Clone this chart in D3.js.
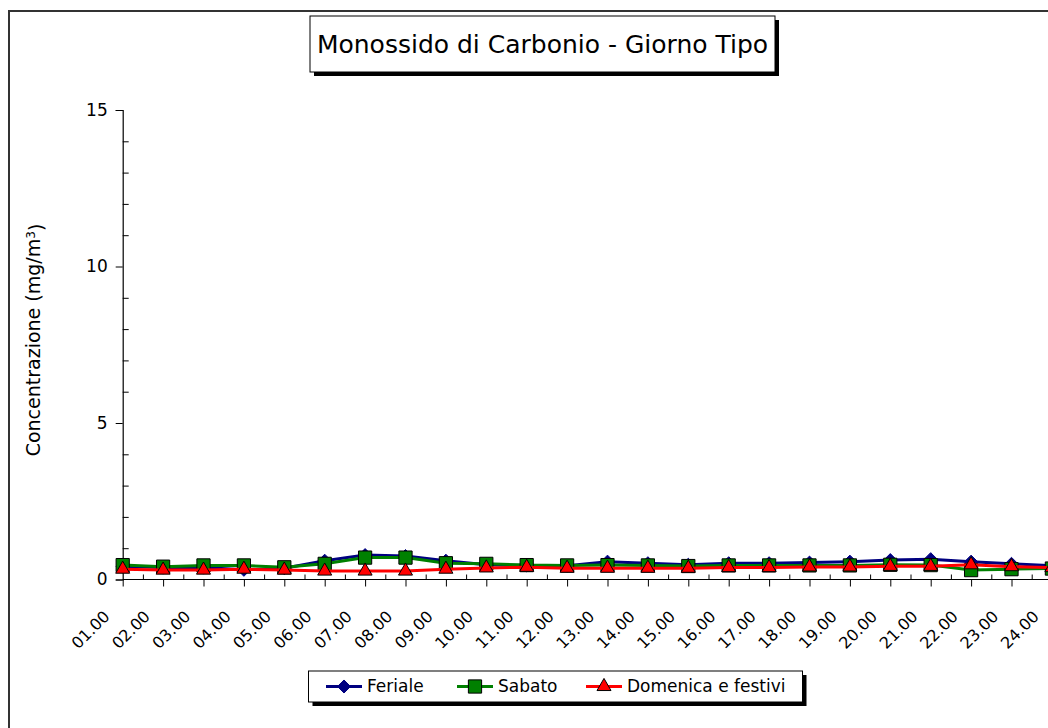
<!DOCTYPE html>
<html>
<head>
<meta charset="utf-8">
<script src="https://cdn.jsdelivr.net/npm/d3@7/dist/d3.min.js"></script>
<style>
  html, body { margin: 0; padding: 0; background: #fff; }
  svg { display: block; }
  text { font-family: "DejaVu Sans", sans-serif; fill: #000; }
</style>
</head>
<body>
<svg id="chart" width="1048" height="728"></svg>
<script>
// ---- data ----
const hours = ["01.00","02.00","03.00","04.00","05.00","06.00","07.00","08.00","09.00","10.00","11.00","12.00",
               "13.00","14.00","15.00","16.00","17.00","18.00","19.00","20.00","21.00","22.00","23.00","24.00"];
const feriale  = [0.42,0.38,0.38,0.31,0.36,0.60,0.78,0.75,0.60,0.47,0.45,0.44,0.57,0.52,0.47,0.52,0.52,0.54,0.57,0.62,0.65,0.57,0.50,0.44];
const sabato   = [0.46,0.41,0.45,0.45,0.39,0.50,0.70,0.70,0.52,0.50,0.46,0.45,0.46,0.45,0.43,0.45,0.45,0.45,0.45,0.47,0.46,0.30,0.33,0.35];
const domenica = [0.33,0.30,0.30,0.33,0.30,0.27,0.27,0.27,0.33,0.37,0.39,0.36,0.36,0.36,0.36,0.38,0.38,0.40,0.40,0.42,0.42,0.47,0.41,0.38];
const seriesNames = ["Feriale","Sabato","Domenica e festivi"];
const yTicks = [0,5,10,15];
const titleText = "Monossido di Carbonio - Giorno Tipo";

// ---- setup ----
const svg = d3.select("#chart");
svg.append("rect").attr("width",1048).attr("height",728).attr("fill","#fff");

// outer chart border (extends beyond the visible window)
svg.append("rect").attr("x",9).attr("y",11).attr("width",1200).attr("height",900)
  .attr("fill","none").attr("stroke","#333").attr("stroke-width",2);

const x = d3.scaleLinear().domain([0, 23]).range([122.7, 1051.9]);
const y = d3.scaleLinear().domain([0, 15]).range([579.5, 110]);
const idx = d3.range(hours.length);

// y axis
const gy = svg.append("g").attr("transform","translate(" + x(0) + ",0)");
gy.call(d3.axisLeft(y).tickValues(yTicks).tickSize(7).tickPadding(8).tickFormat(d3.format("d")));
gy.select(".domain").attr("stroke","#000").attr("stroke-width",1.2);
gy.selectAll(".tick line").attr("stroke","#000");
gy.selectAll(".tick text").style("font-size","17px").style("font-family",'"DejaVu Sans",sans-serif');
const gyMinor = svg.append("g").attr("transform","translate(" + x(0) + ",0)");
gyMinor.call(d3.axisLeft(y).tickValues(d3.range(1,15).filter(v => v % 5 !== 0)).tickSize(-6).tickFormat(""));
gyMinor.select(".domain").remove();
gyMinor.selectAll(".tick line").attr("stroke","#000");

// x axis
const gx = svg.append("g").attr("transform","translate(0," + y(0) + ")");
gx.call(d3.axisBottom(x).tickValues(idx).tickSize(7).tickFormat(""));
gx.select(".domain").attr("d","M" + x(0) + ",0H1100").attr("stroke","#000").attr("stroke-width",1.2);
gx.selectAll(".tick line").attr("stroke","#000");
const gxMinor = svg.append("g").attr("transform","translate(0," + y(0) + ")");
gxMinor.call(d3.axisBottom(x).tickValues(idx.map(i => i + 0.5)).tickSize(-5).tickFormat(""));
gxMinor.select(".domain").remove();
gxMinor.selectAll(".tick line").attr("stroke","#000");

// rotated x labels
svg.append("g").selectAll("text").data(hours).join("text")
  .attr("transform", (d,i) => "translate(" + (x(i) - 16) + "," + (y(0) + 34) + ") rotate(-45)")
  .attr("text-anchor","end").attr("dy","0.35em")
  .style("font-size","16px")
  .text(d => d);

// y label
const yl = svg.append("text")
  .attr("transform","translate(40,340) rotate(-90)")
  .attr("text-anchor","middle")
  .style("font-size","19px");
yl.append("tspan").text("Concentrazione (mg/m");
yl.append("tspan").attr("dy","-0.45em").style("font-size","12px").text("3");
yl.append("tspan").attr("dy","0.45em").text(")");

// Excel-like diamond (square rotated 45°)
const diamond = { draw(ctx, size) { const r = Math.sqrt(size / 2);
  ctx.moveTo(0,-r); ctx.lineTo(r,0); ctx.lineTo(0,r); ctx.lineTo(-r,0); ctx.closePath(); } };

// series
const series = [
  {name: seriesNames[0], values: feriale,  stroke: "#000080", fill: "#000080", mstroke: "#000080", sym: diamond, size: 85},
  {name: seriesNames[1], values: sabato,   stroke: "#008000", fill: "#008000", mstroke: "#000",    sym: d3.symbolSquare,  size: 175},
  {name: seriesNames[2], values: domenica, stroke: "#FF0000", fill: "#FF0000", mstroke: "#000",    sym: d3.symbolTriangle, size: 85}
];
const line = d3.line().x((d,i) => x(i)).y(d => y(d));
const plot = svg.append("g");
series.forEach(s => {
  plot.append("path").attr("d", line(s.values)).attr("fill","none")
    .attr("stroke", s.stroke).attr("stroke-width",3).attr("stroke-linejoin","round");
  plot.append("g").selectAll("path").data(s.values).join("path")
    .attr("transform",(d,i) => "translate(" + x(i) + "," + y(d) + ")")
    .attr("d", d3.symbol().type(s.sym).size(s.size))
    .attr("fill", s.fill).attr("stroke", s.mstroke).attr("stroke-width",1);
});

// title box
const tb = {x: 310, y: 16, w: 465, h: 56};
svg.append("rect").attr("x",tb.x+4).attr("y",tb.y+4).attr("width",tb.w).attr("height",tb.h).attr("fill","#000");
svg.append("rect").attr("x",tb.x).attr("y",tb.y).attr("width",tb.w).attr("height",tb.h).attr("fill","#fff").attr("stroke","#000").attr("stroke-width",1);
svg.append("text").attr("x",tb.x + tb.w/2).attr("y",tb.y + tb.h/2).attr("dy","0.36em")
  .attr("text-anchor","middle").style("font-size","25px").text(titleText);

// legend
const lb = {x: 308.5, y: 671, w: 494, h: 31};
svg.append("rect").attr("x",lb.x+4).attr("y",lb.y+4).attr("width",lb.w).attr("height",lb.h).attr("fill","#000");
svg.append("rect").attr("x",lb.x).attr("y",lb.y).attr("width",lb.w).attr("height",lb.h).attr("fill","#fff").attr("stroke","#000").attr("stroke-width",1);
const legX = [326, 457, 586];
series.forEach((s,k) => {
  const g = svg.append("g").attr("transform","translate(" + legX[k] + "," + (lb.y + lb.h/2) + ")");
  g.append("line").attr("x1",0).attr("x2",36).attr("stroke",s.stroke).attr("stroke-width",3);
  g.append("path").attr("transform","translate(18,0)").attr("d", d3.symbol().type(s.sym).size(s.size))
    .attr("fill", s.fill).attr("stroke", s.mstroke).attr("stroke-width",1);
  g.append("text").attr("x",41).attr("dy","0.35em").style("font-size","17px").text(s.name);
});
</script>
</body>
</html>
